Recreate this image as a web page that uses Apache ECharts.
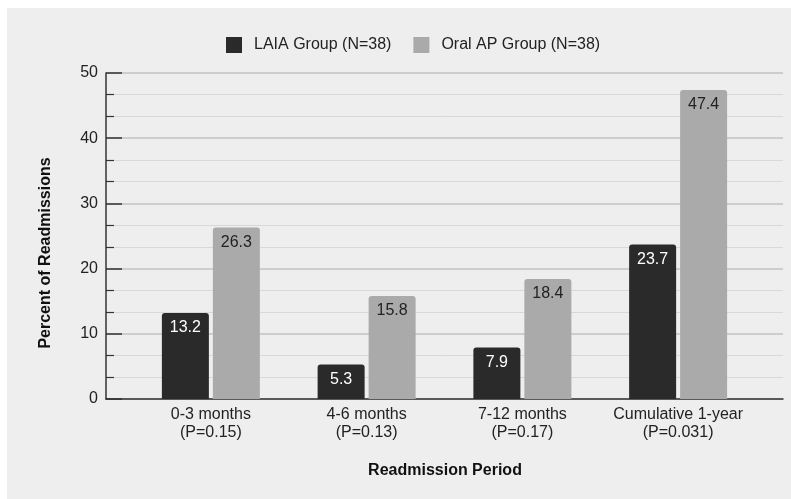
<!DOCTYPE html>
<html>
<head>
<meta charset="utf-8">
<script src="https://cdn.jsdelivr.net/npm/echarts@6/dist/echarts.min.js"></script>
<style>
  html, body { margin: 0; padding: 0; background: #ffffff; overflow: hidden; }
  #panel { position: absolute; left: 7px; top: 8px; width: 784px; height: 491px; background: #eeeeee; }
  #chart { position: absolute; left: 0; top: 0; width: 791px; height: 499px; }
</style>
</head>
<body>
<div id="panel"></div>
<div id="chart"></div>
<script>
// Readmission periods (with p-values) and percentage readmitted per group
const categories = ['0-3 months\n(P=0.15)', '4-6 months\n(P=0.13)', '7-12 months\n(P=0.17)', 'Cumulative 1-year\n(P=0.031)'];
const laiaValues = [13.2, 5.3, 7.9, 23.7];
const oralValues = [26.3, 15.8, 18.4, 47.4];
const seriesNames = ['LAIA Group (N=38)', 'Oral AP Group (N=38)'];
const yTicks = { min: 0, max: 50, interval: 10 };

const FONT = '"Liberation Sans", Arial, sans-serif';
const DARK = '#2a2a2a';
const LIGHT = '#aaaaaa';

const chart = echarts.init(document.getElementById('chart'), null, { renderer: 'canvas' });

chart.setOption({
  backgroundColor: 'transparent',
  animation: false,
  textStyle: { fontFamily: FONT },
  legend: {
    left: 221,
    top: 32,
    itemWidth: 16,
    itemHeight: 16,
    itemGap: 22,
    icon: 'rect',
    textStyle: { fontSize: 16, color: '#222', fontFamily: FONT, padding: [0, 0, 0, 7] },
    data: seriesNames
  },
  grid: [
    // frame grid: y axis, gridlines and baseline
    { left: 106, right: 8, top: 73, bottom: 100 },
    // bar grid: category bands
    { left: 133, right: 35, top: 73, bottom: 100 }
  ],
  xAxis: [
    {
      gridIndex: 0, type: 'value', min: 0, max: 1,
      axisLine: { show: true, lineStyle: { color: '#333', width: 1.5 } },
      axisTick: { show: false }, axisLabel: { show: false }, splitLine: { show: false }
    },
    {
      gridIndex: 1, type: 'category', data: categories,
      axisLine: { show: false }, axisTick: { show: false },
      axisLabel: { interval: 0, color: '#222', fontSize: 16, lineHeight: 18, margin: 7, fontFamily: FONT }
    }
  ],
  yAxis: [
    {
      gridIndex: 0, type: 'value', min: yTicks.min, max: yTicks.max, interval: yTicks.interval,
      axisLine: { show: true, lineStyle: { color: '#333', width: 1.5 } },
      axisTick: { show: true, inside: true, length: 16, lineStyle: { color: '#333', width: 1.5 } },
      minorTick: { show: true, splitNumber: 3, length: 8, lineStyle: { color: '#333', width: 1.2 } },
      axisLabel: { color: '#222', fontSize: 16, margin: 8, fontFamily: FONT },
      splitLine: { show: true, lineStyle: { color: '#c2c2c2', width: 1.5 } },
      minorSplitLine: { show: true, lineStyle: { color: '#d8d8d8', width: 1 } }
    },
    {
      gridIndex: 1, type: 'value', min: yTicks.min, max: yTicks.max, interval: yTicks.interval,
      show: false, splitLine: { show: false }
    }
  ],
  series: [
    {
      name: seriesNames[0], type: 'bar', xAxisIndex: 1, yAxisIndex: 1,
      data: laiaValues, barWidth: 47, barGap: '8.5%',
      itemStyle: { color: DARK, borderRadius: [3, 3, 0, 0] },
      label: { show: true, position: 'insideTop', distance: 7, color: '#ffffff', fontSize: 16, fontFamily: FONT }
    },
    {
      name: seriesNames[1], type: 'bar', xAxisIndex: 1, yAxisIndex: 1,
      data: oralValues, barWidth: 47, barGap: '8.5%',
      itemStyle: { color: LIGHT, borderRadius: [3, 3, 0, 0] },
      label: { show: true, position: 'insideTop', distance: 7, color: '#222', fontSize: 16, fontFamily: FONT }
    }
  ],
  graphic: [
    {
      type: 'text', x: 46, y: 253, rotation: Math.PI / 2,
      style: { text: 'Percent of Readmissions', font: 'bold 16px ' + FONT, fill: '#111', align: 'center', verticalAlign: 'middle' }
    },
    {
      type: 'text', x: 445, y: 471,
      style: { text: 'Readmission Period', font: 'bold 16px ' + FONT, fill: '#111', align: 'center', verticalAlign: 'middle' }
    }
  ]
});
</script>
</body>
</html>
